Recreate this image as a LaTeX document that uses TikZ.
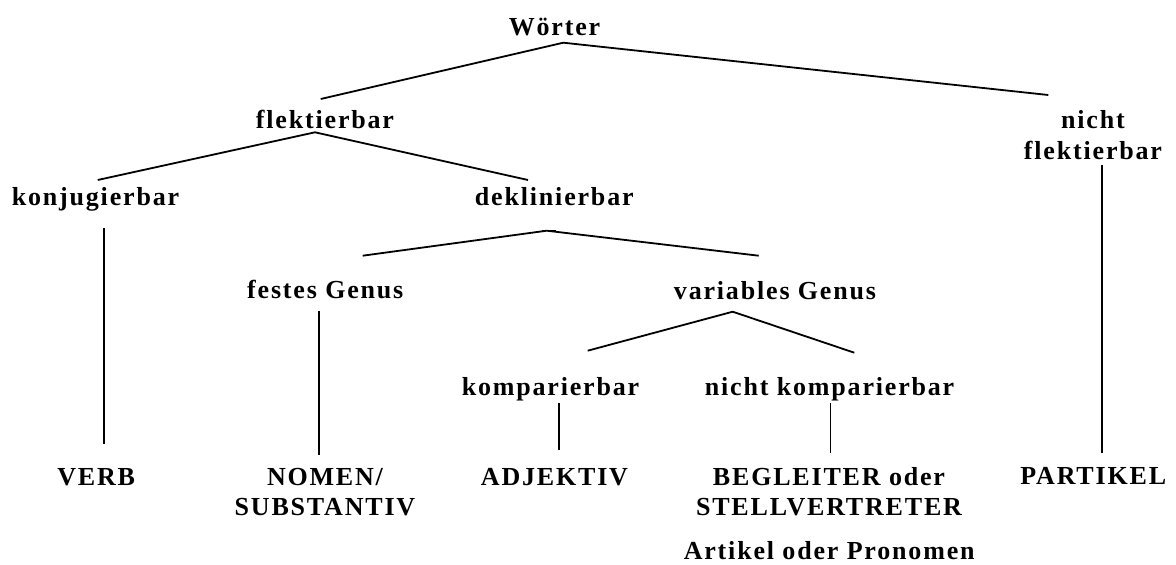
\documentclass[tikz,border=0pt]{standalone}
\usepackage{fontspec}
\setmainfont{Liberation Serif}[LetterSpace=7]
\newcommand{\twoline}[2]{\begin{tabular}[t]{@{}c@{}}#1\\#2\end{tabular}}
\begin{document}
\begin{tikzpicture}[x=1pt,y=-1pt,
  lbl/.style={anchor=base,inner sep=0pt,font=\fontsize{26}{30.7}\selectfont\bfseries},
  edge/.style={line width=1.8pt,line cap=butt,line join=miter}]
\useasboundingbox (0,0) rectangle (1176,565);
% texts
\node[lbl] (w)   at (554.5,35)    {Wörter};
\node[lbl] (fl)  at (325,128.3)   {flektierbar};
\node[lbl] (nf)  at (1093,128.3)  {\twoline{nicht}{flektierbar}};
\node[lbl] (ko)  at (95.5,205)    {konjugierbar};
\node[lbl] (de)  at (554.3,205)   {deklinierbar};
\node[lbl] (fg)  at (325.3,298.5) {festes Genus};
\node[lbl] (vg)  at (775,299)     {variables Genus};
\node[lbl] (kp)  at (550.5,395)   {komparierbar};
\node[lbl] (nk)  at (829.6,395)   {nicht komparierbar};
\node[lbl] (verb) at (96.2,485)   {VERB};
\node[lbl] (nom) at (325,485)     {\twoline{NOMEN/}{SUBSTANTIV}};
\node[lbl] (adj) at (554.5,485)   {ADJEKTIV};
\node[lbl] (beg) at (829,485)     {\twoline{BEGLEITER oder}{STELLVERTRETER}};
\node[lbl] (art) at (829.2,559.3) {Artikel oder Pronomen};
\node[lbl] (part) at (1093.3,484) {PARTIKEL};
% branch points
\coordinate (wA) at (563.3,42.7);
\coordinate (wL) at (320.7,99);
\coordinate (wR) at (1048.3,95);
\coordinate (fA) at (315,132.3);
\coordinate (fL) at (97.7,180);
\coordinate (fR) at (528,180);
\coordinate (dA1) at (542,230.7);
\coordinate (dA2) at (556,230.7);
\coordinate (dA) at (546.7,230.7);
\coordinate (dL) at (362.7,255.7);
\coordinate (dR) at (758.7,255.7);
\coordinate (vA) at (732.7,311.7);
\coordinate (vL) at (587.7,350.7);
\coordinate (vR) at (854.3,352.7);
\coordinate (koT) at (104.3,228.3);
\coordinate (koB) at (104.3,444.3);
\coordinate (fgT) at (319.2,310.7);
\coordinate (fgB) at (319.2,455);
\coordinate (kpT) at (559,403.3);
\coordinate (kpB) at (559,450);
\coordinate (nkT) at (830.5,403);
\coordinate (nkB) at (830.5,452.7);
\coordinate (nfT) at (1102.3,165);
\coordinate (nfB) at (1102.3,453);
% connectors
\draw[edge] (wL) -- (wA) -- (wR);
\draw[edge] (fL) -- (fA) -- (fR);
\draw[edge] (dL) -- (dA) -- (dR);
\draw[edge,line width=1.2pt] (dA1) -- (dA2);
\draw[edge] (vL) -- (vA) -- (vR);
\draw[edge] (koT) -- (koB);
\draw[edge] (fgT) -- (fgB);
\draw[edge] (kpT) -- (kpB);
\draw[edge] (nkT) -- (nkB);
\draw[edge] (nfT) -- (nfB);
\end{tikzpicture}
\end{document}
